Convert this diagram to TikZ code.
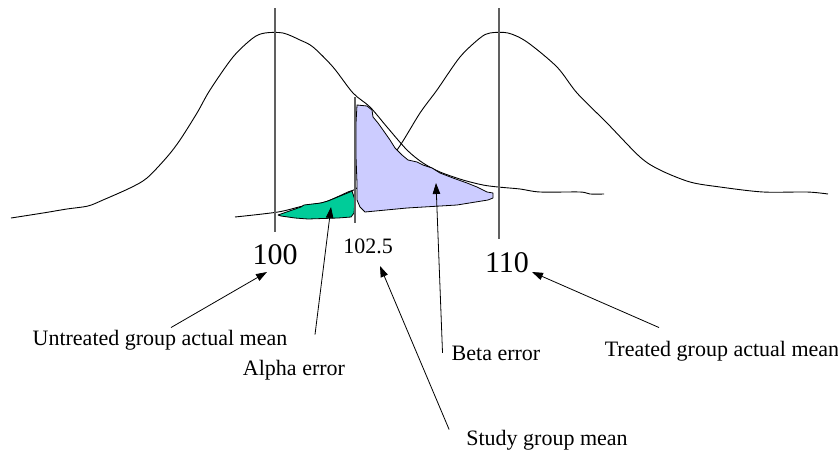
\documentclass[tikz,border=0pt]{standalone}
\usepackage{fontspec}
\setmainfont{Liberation Serif}
\usetikzlibrary{arrows.meta}

\definecolor{alphagreen}{RGB}{0,204,153}
\definecolor{betablue}{RGB}{204,204,255}
\definecolor{meangray}{RGB}{96,96,96}

\tikzset{
    >={Triangle[length=11pt,width=7.5pt]},
    bell/.style={line width=0.9pt, smooth, tension=0.5},
    meanline/.style={meangray, line width=1.4pt},
    errarea/.style={draw=black, line width=0.8pt, line join=round},
    pointer/.style={->, line width=0.8pt},
    lbl/.style={inner sep=0pt, anchor=base, font=\fontsize{22}{26}\selectfont},
    bignum/.style={inner sep=0pt, anchor=base, font=\fontsize{30}{34}\selectfont}
}

\begin{document}
\begin{tikzpicture}[x=1pt,y=-1pt]
    \useasboundingbox (0,0) rectangle (838,450);

    % untreated group curve
    \draw [bell] plot coordinates {(11,218) (43,213) (67,209) (88,206) (103,200)
        (130,188) (147,178) (167,157) (180,140) (197,113) (210,90) (233,57)
        (253,38) (265,33) (283,33) (300,40) (313,47) (333,67) (353,93) (370,107)
        (387,127) (407,150) (423,163) (440,172) (463,180) (483,185) (498,187)
        (520,189) (540,192) (580,192) (590,194) (604,194)};

    % treated group curve
    \draw [bell] plot coordinates {(235,217) (278,212) (303,206) (325,202)
        (348,192) (357,188) (377,170) (397,150) (420,113) (437,90) (460,57)
        (480,38) (490,33) (508,33) (527,42) (557,67) (577,93) (607,123)
        (640,157) (660,170) (690,182) (720,187) (763,192) (807,192) (828,194)};

    % beta area
    \draw [errarea, fill=betablue] (357,105) -- (367,106) -- (372,110) -- (373,117)
        -- (378,123) -- (383,130) -- (390,140) -- (395,148) -- (402,155)
        -- (408,160) -- (417,162) -- (423,165) -- (432,168) -- (440,173)
        -- (453,178) -- (467,183) -- (477,187) -- (487,192) -- (493,193)
        -- (493,198) -- (488,200) -- (457,205) -- (407,208) -- (365,212)
        -- (360,207) -- (357,200) -- (357,183) -- (356,157) -- (356,123) -- cycle;

    % alpha area
    \draw [errarea, fill=alphagreen] (278,215) -- (301,207) -- (304,205) -- (321,203)
        -- (328,201) -- (350,192) -- (352,191) -- (355,200) -- (354,213)
        -- (351,217) -- (338,218) -- (308,219) -- (295,218) -- (281,216) -- cycle;

    % means
    \coordinate (m0t) at (275,8);
    \coordinate (m0b) at (275,232);
    \coordinate (mst) at (355,97);
    \coordinate (msb) at (355,223);
    \coordinate (m1t) at (499,8);
    \coordinate (m1b) at (499,239);

    \draw [meanline] (m0t) -- (m0b);
    \draw [meanline] (mst) -- (msb);
    \draw [meanline] (m1t) -- (m1b);

    % axis values
    \node [bignum] (lbl100) at (275,264) {100};
    \node [lbl] (lbl1025) at (368,253) {102.5};
    \node [bignum] (lbl110) at (507,272) {110};

    % labels
    \node [lbl] (untreated) at (160,345) {Untreated group actual mean};
    \node [lbl] (alpha) at (294,375) {Alpha error};
    \node [lbl] (beta) at (496,360) {Beta error};
    \node [lbl] (treated) at (722,356) {Treated group actual mean};
    \node [lbl] (study) at (547,445) {Study group mean};

    % arrow tips
    \coordinate (untreatedtip) at (267,272);
    \coordinate (alphatip) at (331,207);
    \coordinate (betatip) at (436,183);
    \coordinate (studytip) at (380,266);
    \coordinate (treatedtip) at (532,272);

    \draw [pointer] ([xshift=11pt,yshift=2pt]untreated.north) -- (untreatedtip);
    \draw [pointer] ([xshift=21pt,yshift=25pt]alpha.north) -- (alphatip);
    \draw [pointer] ([xshift=-9pt]beta.west) -- (betatip);
    \draw [pointer] ([xshift=-17pt]study.north west) -- (studytip);
    \draw [pointer] ([xshift=-63pt,yshift=13pt]treated.north) -- (treatedtip);

\end{tikzpicture}
\end{document}
